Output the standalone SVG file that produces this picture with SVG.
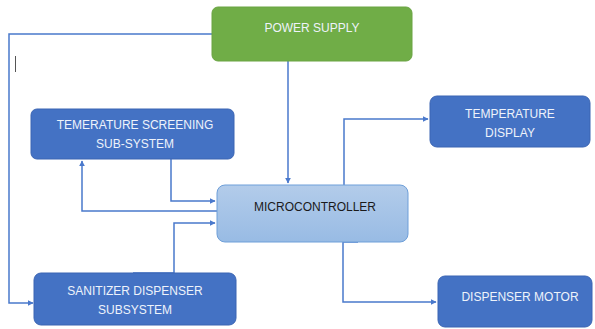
<svg xmlns="http://www.w3.org/2000/svg" width="595" height="329" viewBox="0 0 595 329">
  <defs>
    <linearGradient id="mcuFill" x1="0" y1="0" x2="0" y2="1">
      <stop offset="0" stop-color="#B3CCEA"/>
      <stop offset="1" stop-color="#98BBE4"/>
    </linearGradient>
    <marker id="arrow" viewBox="0 0 10 10" refX="9" refY="5" markerWidth="6" markerHeight="6" orient="auto" markerUnits="userSpaceOnUse">
      <path d="M0,0 L10,5 L0,10 z" fill="#4A79CC"/>
    </marker>
    <style>
      .conn { fill: none; stroke: #4A79CC; stroke-width: 1.5; }
      .blue { fill: #4472C4; stroke: #3B65B3; stroke-width: 1; }
      .green { fill: #70AD47; stroke: #6AA443; stroke-width: 1; }
      .mcu { fill: url(#mcuFill); stroke: #6E9FD9; stroke-width: 1; }
      .lbl { font-family: "Liberation Sans", "Open Sans", sans-serif; font-size: 12px; text-anchor: middle; }
      .light { fill: #EEF3FB; }
      .dark { fill: #1A1A1A; }
    </style>
  </defs>

  <!-- connectors -->
  <g id="connectors">
    <path class="conn" d="M212,34 H9 V303 H33" marker-end="url(#arrow)"/>
    <path class="conn" d="M288,61 V183" marker-end="url(#arrow)"/>
    <path class="conn" d="M171,159 V201 H215" marker-end="url(#arrow)"/>
    <path class="conn" d="M217,211 H82 V161" marker-end="url(#arrow)"/>
    <path class="conn" d="M133,273 H174 V223 H215" marker-end="url(#arrow)"/>
    <path class="conn" d="M344,185 V119 H428" marker-end="url(#arrow)"/>
    <path class="conn" d="M358,242 H343 V302 H436" marker-end="url(#arrow)"/>
  </g>

  <!-- caret mark -->
  <line x1="15.5" y1="56" x2="15.5" y2="72" stroke="#555555" stroke-width="1"/>

  <g id="power-supply">
    <rect class="green" x="212" y="7" width="200" height="54" rx="6"/>
    <text class="lbl light" x="312" y="32">POWER SUPPLY</text>
  </g>

  <g id="temp-screening">
    <rect class="blue" x="31" y="109" width="203" height="50" rx="6"/>
    <text class="lbl light" x="135" y="129">TEMERATURE SCREENING</text>
    <text class="lbl light" x="135" y="148">SUB-SYSTEM</text>
  </g>

  <g id="microcontroller">
    <rect class="mcu" x="217" y="185" width="191" height="57" rx="8"/>
    <text class="lbl dark" x="315" y="211">MICROCONTROLLER</text>
  </g>

  <g id="temp-display">
    <rect class="blue" x="430" y="96" width="160" height="51" rx="7"/>
    <text class="lbl light" x="510" y="118">TEMPERATURE</text>
    <text class="lbl light" x="510" y="137">DISPLAY</text>
  </g>

  <g id="sanitizer">
    <rect class="blue" x="34" y="273" width="202" height="52" rx="7"/>
    <text class="lbl light" x="135" y="295">SANITIZER DISPENSER</text>
    <text class="lbl light" x="135" y="314">SUBSYSTEM</text>
  </g>

  <g id="dispenser-motor">
    <rect class="blue" x="438" y="276" width="154" height="51" rx="7"/>
    <text class="lbl light" x="520" y="301">DISPENSER MOTOR</text>
  </g>
</svg>
